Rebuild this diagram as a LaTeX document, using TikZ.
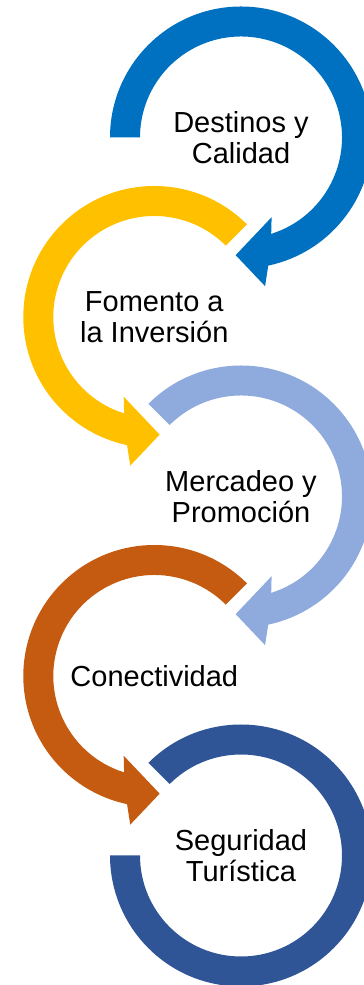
\documentclass[tikz,border=0pt]{standalone}
\usepackage{fontspec}
\setmainfont{Liberation Sans}
\usepackage{xcolor}
\usepackage{tikz}
\usetikzlibrary{calc, positioning}
\definecolor{ringblue}{HTML}{0070C0}
\definecolor{ringyellow}{HTML}{FFC000}
\definecolor{ringlight}{HTML}{8FAADC}
\definecolor{ringorange}{HTML}{C55A11}
\definecolor{ringdark}{HTML}{2F5597}
\tikzset{
	ring/.style={draw=none},
	step text/.style={
		align=center,
		inner sep=0pt,
		font=\fontsize{29}{30.5}\selectfont
	}
}

\begin{document}
\begin{tikzpicture}[x=1pt, y=1pt]
\useasboundingbox (0,0) rectangle (364,985);

\coordinate (c1) at (241,847.5);
\coordinate (c2) at (154.3,668);
\coordinate (c3) at (241,488.5);
\coordinate (c4) at (154.3,309);
\coordinate (c5) at (241,129.5);

% arrows turning to the right
\fill[ring, ringblue, shift={(c1)}] (180:131) arc[start angle=180, end angle=-78, radius=131]
	-- (-80.8:150.6) -- (-92.6:117.8) -- (-69:85.4) -- (-72.6:101)
	arc[start angle=-72.6, end angle=180, radius=101] -- cycle;
\fill[ring, ringlight, shift={(c3)}] (135:131) arc[start angle=135, end angle=-78, radius=131]
	-- (-80.8:150.6) -- (-92.6:117.8) -- (-69:85.4) -- (-72.6:101)
	arc[start angle=-72.6, end angle=135, radius=101] -- cycle;

% arrows turning to the left
\fill[ring, ringyellow, shift={(c2)}] (45:131) arc[start angle=45, end angle=258, radius=131]
	-- (260.8:150.6) -- (272.6:117.8) -- (249:85.4) -- (252.6:101)
	arc[start angle=252.6, end angle=45, radius=101] -- cycle;
\fill[ring, ringorange, shift={(c4)}] (45:131) arc[start angle=45, end angle=258, radius=131]
	-- (260.8:150.6) -- (272.6:117.8) -- (249:85.4) -- (252.6:101)
	arc[start angle=252.6, end angle=45, radius=101] -- cycle;

% last ring, no head
\fill[ring, ringdark, shift={(c5)}] (135:131) arc[start angle=135, end angle=-180, radius=131]
	-- (180:101) arc[start angle=-180, end angle=135, radius=101] -- cycle;

\node[step text] (destinos) at (c1) {Destinos y\\Calidad};
\node[step text] (fomento) at (c2) {Fomento a\\la Inversión};
\node[step text] (mercadeo) at (c3) {Mercadeo y\\Promoción};
\node[step text] (conect) at (c4) {Conectividad};
\node[step text] (seguridad) at (c5) {Seguridad\\Turística};
\end{tikzpicture}
\end{document}
